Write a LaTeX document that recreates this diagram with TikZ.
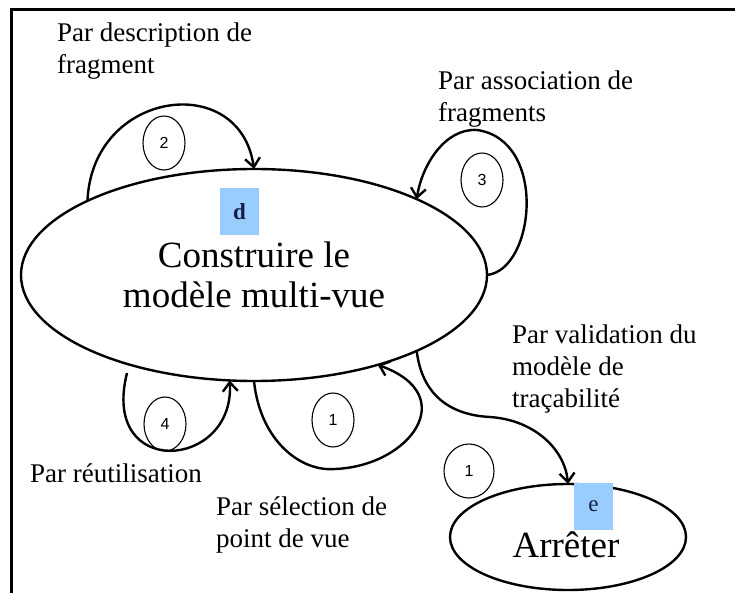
\documentclass[tikz,border=0pt]{standalone}
\usepackage{fontspec}
\setmainfont{Liberation Serif}
\newfontfamily\numfont{Liberation Sans}
\usetikzlibrary{shapes.geometric,arrows.meta}
\definecolor{tagblue}{RGB}{153,204,255}
\definecolor{tagink}{RGB}{20,30,70}
\begin{document}
\begin{tikzpicture}[x=1pt,y=-1pt,
  conn/.style={line width=2.4pt,-{Straight Barb[length=9pt,width=15pt]}},
  num/.style={draw,line width=1.1pt,ellipse,minimum width=42pt,minimum height=54pt,inner sep=0pt,font=\numfont\fontsize{16}{18}\selectfont},
  lab/.style={align=left,anchor=west,inner sep=0pt,font=\fontsize{27}{32}\selectfont},
  tag/.style={fill=tagblue,minimum width=39pt,minimum height=47pt,inner sep=0pt,text=tagink,font=\fontsize{23}{25}\selectfont},
  big/.style={draw,line width=2.4pt,ellipse,inner sep=0pt,outer sep=0pt,align=center,font=\fontsize{37}{40}\selectfont},
  bigtext/.style={inner sep=0pt,font=\fontsize{37}{40}\selectfont}
]
\useasboundingbox (0,0) rectangle (735,593);
\draw[line width=3pt] (735,10) -- (11.5,10) -- (11.5,593);

\node[big,minimum width=466pt,minimum height=212pt] (m) at (254,275) {Construire le\\modèle multi-vue};
\node[big,minimum width=236pt,minimum height=106pt] (a) at (568,537) {};
\node[bigtext] (at) at (566,545) {Arrêter};

\node[tag] (d) at (239.5,211.5) {\textbf{d}};
\node[tag] (e) at (593.5,506.5) {e};

\node[lab] (l2) at (57,51) {Par description de\\fragment};
\node[lab] (l3) at (438,99) {Par association de\\fragments};
\node[lab] (lv) at (512,369) {Par validation du\\modèle de\\traçabilité};
\node[lab] (lr) at (30,473) {Par réutilisation};
\node[lab] (ls) at (216,525) {Par sélection de\\point de vue};

\node[num] (n2) at (164,143) {2};
\node[num] (n3) at (482,180) {3};
\node[num] (n4) at (165,424) {4};
\node[num] (n1) at (333,420) {1};
\node[num,minimum width=50pt] (n1b) at (469,471) {1};

\coordinate (l4s) at (127,373);

\draw[conn] (m.156) .. controls (92,90) and (240,70) .. (m.90);
\draw[conn] (m.0) .. controls (535,270) and (548,140) .. (477,130) .. controls (445,128) and (422,165) .. (m.25);
\draw[conn] (l4s) .. controls (100,480) and (235,470) .. (m.257);
\draw[conn] (m.270) .. controls (260,440) and (300,472) .. (335,469) .. controls (410,466) and (462,395) .. (m.324);
\draw[conn] (m.335) .. controls (422,395) and (450,415) .. (490,417) .. controls (535,420) and (565,450) .. (a.90);
\end{tikzpicture}
\end{document}
